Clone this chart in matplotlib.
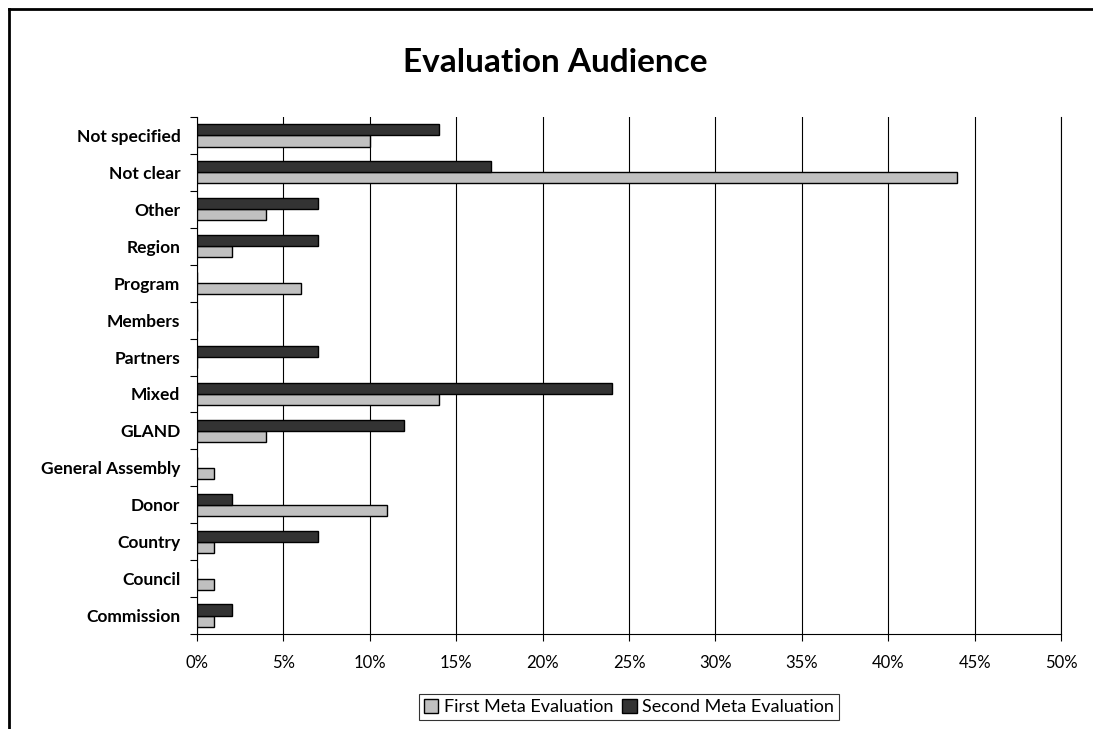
import numpy as np
import matplotlib
matplotlib.use("Agg")
from matplotlib import pyplot as plt
from matplotlib.lines import Line2D
from matplotlib.ticker import PercentFormatter, FixedLocator

# categories listed bottom to top
categories = ["Commission", "Council", "Country", "Donor", "General Assembly",
              "GLAND", "Mixed", "Partners", "Members", "Program", "Region",
              "Other", "Not clear", "Not specified"]
first_meta = [1, 1, 1, 11, 1, 4, 14, 0, 0, 6, 2, 4, 44, 10]
second_meta = [2, 0, 7, 2, 0, 12, 24, 7, 0, 0, 7, 7, 17, 14]
x_ticks = [0, 5, 10, 15, 20, 25, 30, 35, 40, 45, 50]

plt.rcParams['font.family'] = ['Lato', 'DejaVu Sans']

fig = plt.figure(figsize=(10.93, 7.29), dpi=100)
ax = fig.add_axes([197 / 1093, 1 - 634 / 729, (1061 - 197) / 1093, (634 - 117) / 729])

y = np.arange(len(categories))
h = 0.3
ax.barh(y - h / 2, first_meta, height=h, color="#c0c0c0", edgecolor="black",
        linewidth=1, label="First Meta Evaluation", zorder=3)
ax.barh(y + h / 2, second_meta, height=h, color="#333333", edgecolor="black",
        linewidth=1, label="Second Meta Evaluation", zorder=3)

ax.set_xlim(0, 50)
ax.set_ylim(-0.5, len(categories) - 0.5)
ax.set_xticks(x_ticks)
ax.xaxis.set_major_formatter(PercentFormatter(decimals=0))
ax.grid(axis="x", color="black", linewidth=0.8, zorder=0)

# category labels without ticks, tick marks on the boundaries
ax.set_yticks(y)
ax.set_yticklabels(categories, fontsize=12.5, fontweight="bold")
ax.tick_params(axis="y", length=0, pad=12)
ax.yaxis.set_minor_locator(FixedLocator(np.arange(-0.5, len(categories), 1)))
ax.tick_params(axis="y", which="minor", length=5, width=0.8)
ax.tick_params(axis="x", length=5, width=0.8, labelsize=12, pad=10, colors="black")

ax.spines["top"].set_visible(False)
ax.spines["right"].set_bounds(-0.5, len(categories) - 0.5)
for side in ["left", "bottom", "right"]:
    ax.spines[side].set_linewidth(0.8)

fig.text(0.508, 1 - 62 / 729, "Evaluation Audience", ha="center", va="center",
         fontsize=24, fontweight="bold")

leg = fig.legend(loc="center", bbox_to_anchor=(629 / 1093, 1 - 707 / 729), ncol=2,
                 frameon=True, fancybox=False, edgecolor="black", fontsize=13,
                 handlelength=0.8, handleheight=0.8, handletextpad=0.3,
                 columnspacing=0.5, borderpad=0.25)
leg.get_frame().set_linewidth(0.8)

# outer frame lines (left and top)
fig.add_artist(Line2D([9 / 1093, 9 / 1093], [0, 1 - 9 / 729], color="black", linewidth=2))
fig.add_artist(Line2D([9 / 1093, 1], [1 - 9 / 729, 1 - 9 / 729], color="black", linewidth=2))

fig.savefig("out.png", dpi=100)
